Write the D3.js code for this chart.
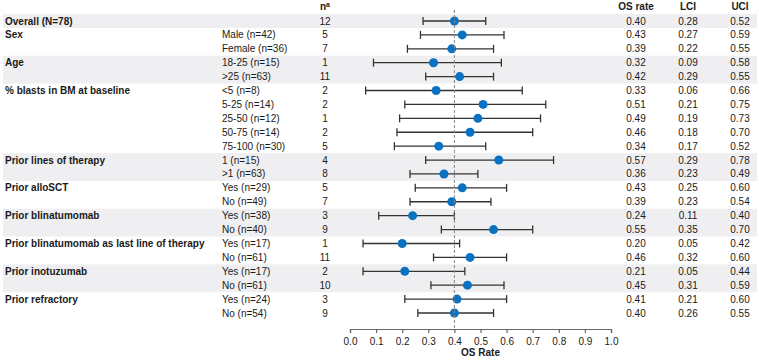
<!DOCTYPE html>
<html>
<head>
<meta charset="utf-8">
<script src="https://cdn.jsdelivr.net/npm/d3@7"></script>
<style>
  body { margin: 0; background: #fff; }
  text { font-family: "Liberation Sans", Arial, sans-serif; font-size: 10px; fill: #1a1a1a; }
  .bold { font-weight: bold; }
</style>
</head>
<body>
<div id="chart"></div>
<script>
// chart data
var groups = ["Overall (N=78)", "Sex", "Age", "% blasts in BM at baseline", "Prior lines of therapy",
  "Prior alloSCT", "Prior blinatumomab", "Prior blinatumomab as last line of therapy",
  "Prior inotuzumab", "Prior refractory"];
var groupSize = [1, 2, 2, 5, 2, 2, 2, 2, 2, 2];
var subgroups = ["", "Male (n=42)", "Female (n=36)", "18-25 (n=15)", ">25 (n=63)",
  "<5 (n=8)", "5-25 (n=14)", "25-50 (n=12)", "50-75 (n=14)", "75-100 (n=30)",
  "1 (n=15)", ">1 (n=63)", "Yes (n=29)", "No (n=49)", "Yes (n=38)", "No (n=40)",
  "Yes (n=17)", "No (n=61)", "Yes (n=17)", "No (n=61)", "Yes (n=24)", "No (n=54)"];
var nEvents = [12, 5, 7, 1, 11, 2, 2, 1, 2, 5, 4, 8, 5, 7, 3, 9, 1, 11, 2, 10, 3, 9];
var osRate = [0.40, 0.43, 0.39, 0.32, 0.42, 0.33, 0.51, 0.49, 0.46, 0.34, 0.57, 0.36,
  0.43, 0.39, 0.24, 0.55, 0.20, 0.46, 0.21, 0.45, 0.41, 0.40];
var lci = [0.28, 0.27, 0.22, 0.09, 0.29, 0.06, 0.21, 0.19, 0.18, 0.17, 0.29, 0.23,
  0.25, 0.23, 0.11, 0.35, 0.05, 0.32, 0.05, 0.31, 0.21, 0.26];
var uci = [0.52, 0.59, 0.55, 0.58, 0.55, 0.66, 0.75, 0.73, 0.70, 0.52, 0.78, 0.49,
  0.60, 0.54, 0.40, 0.70, 0.42, 0.60, 0.44, 0.59, 0.60, 0.55];
var xTicks = [0, 0.1, 0.2, 0.3, 0.4, 0.5, 0.6, 0.7, 0.8, 0.9, 1.0];
var refLine = 0.4;

// setup dimensions
var width = 759, height = 363;

var svg = d3.select("#chart").append("svg")
  .attr("width", width)
  .attr("height", height);

// scales
var x = d3.scaleLinear().domain([0, 1]).range([350, 611]);
var y = d3.scaleLinear().domain([0, subgroups.length - 1]).range([21, 313]);
var rowH = y(1) - y(0);

// group start index
var starts = [], s = 0;
groupSize.forEach(function(g) { starts.push(s); s += g; });

// shaded bands on every other group
svg.selectAll("rect.band")
  .data(groups.filter(function(d, i) { return i % 2 == 0; }))
  .enter().append("rect")
  .attr("class", "band")
  .attr("x", 3)
  .attr("width", 754)
  .attr("y", function(d) { var i = groups.indexOf(d); return y(starts[i]) - rowH / 2; })
  .attr("height", function(d) { var i = groups.indexOf(d); return groupSize[i] * rowH; })
  .attr("fill", "#efeff1");

// headers
var head = svg.append("g").attr("class", "bold");
var nh = head.append("text").attr("class", "bold").attr("x", 325).attr("y", 10).attr("text-anchor", "middle");
nh.append("tspan").text("n");
nh.append("tspan").attr("dy", -3).style("font-size", "7px").text("a");
head.append("text").attr("class", "bold").attr("x", 636).attr("y", 10).attr("text-anchor", "middle").text("OS rate");
head.append("text").attr("class", "bold").attr("x", 688).attr("y", 10).attr("text-anchor", "middle").text("LCI");
head.append("text").attr("class", "bold").attr("x", 740).attr("y", 10).attr("text-anchor", "middle").text("UCI");

// group labels
svg.selectAll("text.group")
  .data(groups)
  .enter().append("text")
  .attr("class", "group bold")
  .attr("x", 5)
  .attr("y", function(d, i) { return y(starts[i]); })
  .attr("dy", "0.35em")
  .text(function(d) { return d; });

// rows
var rows = svg.selectAll("g.row")
  .data(subgroups)
  .enter().append("g")
  .attr("class", "row")
  .attr("transform", function(d, i) { return "translate(0," + y(i) + ")"; });

rows.append("text").attr("x", 222).attr("dy", "0.35em").text(function(d) { return d; });
rows.append("text").attr("x", 325).attr("dy", "0.35em").attr("text-anchor", "middle")
  .text(function(d, i) { return nEvents[i]; });
rows.append("text").attr("x", 636).attr("dy", "0.35em").attr("text-anchor", "middle")
  .text(function(d, i) { return osRate[i].toFixed(2); });
rows.append("text").attr("x", 688).attr("dy", "0.35em").attr("text-anchor", "middle")
  .text(function(d, i) { return lci[i].toFixed(2); });
rows.append("text").attr("x", 740).attr("dy", "0.35em").attr("text-anchor", "middle")
  .text(function(d, i) { return uci[i].toFixed(2); });

// reference line
svg.append("line")
  .attr("x1", x(refLine)).attr("x2", x(refLine))
  .attr("y1", 10).attr("y2", 328)
  .attr("stroke", "#888").attr("stroke-width", 1)
  .attr("stroke-dasharray", "3,2");

// whiskers
var cap = 4;
rows.append("line")
  .attr("x1", function(d, i) { return x(lci[i]); })
  .attr("x2", function(d, i) { return x(uci[i]); })
  .attr("stroke", "#333").attr("stroke-width", 1.3);
rows.append("line")
  .attr("x1", function(d, i) { return x(lci[i]); })
  .attr("x2", function(d, i) { return x(lci[i]); })
  .attr("y1", -cap).attr("y2", cap)
  .attr("stroke", "#333").attr("stroke-width", 1.3);
rows.append("line")
  .attr("x1", function(d, i) { return x(uci[i]); })
  .attr("x2", function(d, i) { return x(uci[i]); })
  .attr("y1", -cap).attr("y2", cap)
  .attr("stroke", "#333").attr("stroke-width", 1.3);
rows.append("circle")
  .attr("cx", function(d, i) { return x(osRate[i]); })
  .attr("r", 4.5)
  .attr("fill", "#0a72c2");

// x axis
var axis = svg.append("g")
  .attr("transform", "translate(0,329)")
  .call(d3.axisBottom(x).tickValues(xTicks).tickFormat(d3.format(".1f")).tickSize(4));
axis.select(".domain").attr("stroke", "#666").attr("stroke-width", 1.2);
axis.selectAll(".tick line").attr("stroke", "#666").attr("stroke-width", 1.2);
axis.selectAll(".tick text")
  .style("font-family", "'Liberation Sans', Arial, sans-serif")
  .style("font-size", "10px").attr("fill", "#1a1a1a").attr("dy", "0.9em");

svg.append("text")
  .attr("class", "bold")
  .attr("x", x(0.5))
  .attr("y", 356)
  .attr("text-anchor", "middle")
  .text("OS Rate");
</script>
</body>
</html>
